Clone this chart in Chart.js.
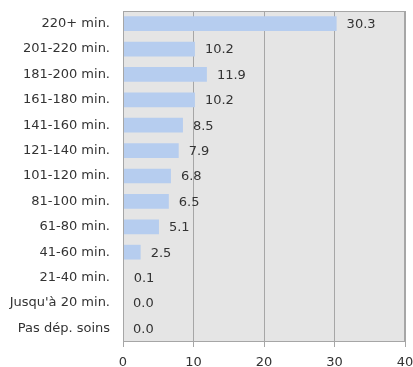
<!DOCTYPE html>
<html>
<head>
<meta charset="utf-8">
<script src="https://cdn.jsdelivr.net/npm/chart.js@4.4.1/dist/chart.umd.min.js"></script>
<style>
  html, body { margin: 0; padding: 0; background: #ffffff; }
  #wrap { width: 413px; height: 367px; }
</style>
</head>
<body>
<div id="wrap"><canvas id="c" width="413" height="367"></canvas></div>
<script>
// Waiting time groups, top to bottom
const categories = [
  "220+ min.", "201-220 min.", "181-200 min.", "161-180 min.", "141-160 min.",
  "121-140 min.", "101-120 min.", "81-100 min.", "61-80 min.", "41-60 min.",
  "21-40 min.", "Jusqu'à 20 min.", "Pas dép. soins"
];
// Share of patients (%)
const shares = [30.3, 10.2, 11.9, 10.2, 8.5, 7.9, 6.8, 6.5, 5.1, 2.5, 0.1, 0.0, 0.0];
// Value axis ticks
const xTicks = [0, 10, 20, 30, 40];

const FONT = "'DejaVu Sans', Verdana, sans-serif";
const TEXT = "#333333";

// Grey plot background with a frame
const plotFrame = {
  id: "plotFrame",
  beforeDraw(chart) {
    const { ctx, chartArea: a } = chart;
    ctx.save();
    ctx.fillStyle = "#e5e5e5";
    ctx.fillRect(a.left, a.top, a.right - a.left, a.bottom - a.top);
    ctx.restore();
  },
  afterDatasetsDraw(chart) {
    const { ctx, chartArea: a } = chart;
    ctx.save();
    ctx.strokeStyle = "#a6a6a6";
    ctx.lineWidth = 1;
    ctx.strokeRect(Math.round(a.left) + 0.5, Math.round(a.top) + 0.5,
      Math.round(a.right - a.left) - 1, Math.round(a.bottom - a.top));
    ctx.restore();
  }
};

// Value labels printed to the right of each bar
const valueLabels = {
  id: "valueLabels",
  afterDatasetsDraw(chart) {
    const { ctx } = chart;
    const meta = chart.getDatasetMeta(0);
    ctx.save();
    ctx.font = "13px " + FONT;
    ctx.fillStyle = TEXT;
    ctx.textAlign = "left";
    ctx.textBaseline = "middle";
    meta.data.forEach((bar, i) => {
      ctx.fillText(shares[i].toFixed(1), bar.x + 10, bar.y + 1);
    });
    ctx.restore();
  }
};

new Chart(document.getElementById("c"), {
  type: "bar",
  data: {
    labels: categories,
    datasets: [{
      data: shares,
      backgroundColor: "#b6cdef",
      borderWidth: 0,
      barPercentage: 0.58,
      categoryPercentage: 1.0
    }]
  },
  options: {
    indexAxis: "y",
    responsive: false,
    animation: false,
    events: [],
    layout: { padding: { top: 11, right: 8, left: 0, bottom: 0 } },
    plugins: { legend: { display: false }, tooltip: { enabled: false } },
    scales: {
      x: {
        min: 0, max: 40,
        afterBuildTicks(scale) { scale.ticks = xTicks.map(v => ({ value: v })); },
        afterFit(scale) { scale.height = 26; scale.paddingLeft = 0; scale.paddingRight = 0; },
        grid: {
          color: "#a6a6a6", lineWidth: 1,
          drawTicks: true, tickLength: 6, tickColor: "#a6a6a6"
        },
        border: { display: false },
        ticks: { color: TEXT, font: { family: FONT, size: 13 }, padding: 8, maxRotation: 0 }
      },
      y: {
        afterFit(scale) { scale.width = 123; scale.paddingTop = 0; scale.paddingBottom = 0; },
        grid: { display: false, drawTicks: false },
        border: { display: false },
        ticks: { color: TEXT, font: { family: FONT, size: 13 }, padding: 13, autoSkip: false }
      }
    }
  },
  plugins: [plotFrame, valueLabels]
});
</script>
</body>
</html>
